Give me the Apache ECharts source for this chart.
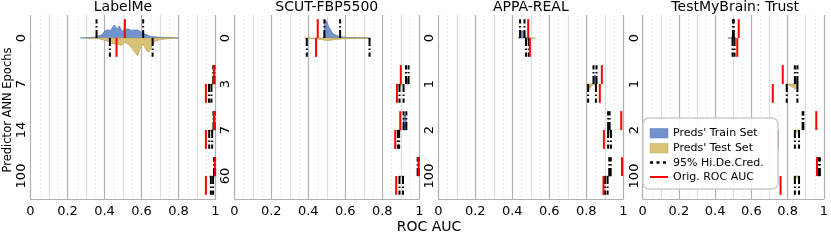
<!DOCTYPE html>
<html>
<head>
<meta charset="utf-8">
<script src="https://cdn.jsdelivr.net/npm/echarts@6/dist/echarts.min.js"></script>
<style>html,body{margin:0;padding:0;background:#fff}#c{width:831px;height:241px}</style>
</head>
<body>
<div id="c"></div>
<script>
// ---------- data ----------
const panelTitles = ['LabelMe', 'SCUT-FBP5500', 'APPA-REAL', 'TestMyBrain: Trust'];
const xTickLabels = ['0', '0.2', '0.4', '0.6', '0.8', '1'];
const xAxisName = 'ROC AUC';
const yAxisName = 'Predictor ANN Epochs';
const legendLabels = ["Preds' Train Set", "Preds' Test Set", '95% Hi.De.Cred.', 'Orig. ROC AUC'];

// LabelMe
const epochsLabelMe = ['0', '7', '14', '100'];
const trainOrigLabelMe = [0.510, 0.991, 0.992, 0.996];
const testOrigLabelMe = [0.465, 0.948, 0.948, 0.948];
const trainHdiLabelMe = [[0.357, 0.609], [0.988, 0.994], [0.989, 0.995], [0.992, 0.998]];
const testHdiLabelMe = [[0.429, 0.660], [0.965, 0.978], [0.966, 0.982], [0.975, 0.987]];
const trainKdeLabelMe = [
  [[0.27,0],[0.303,0.013],[0.348,0.04],[0.384,0.13],[0.405,0.33],[0.418,0.36],[0.429,0.32],[0.438,0.39],[0.452,0.56],[0.468,0.40],[0.480,0.52],[0.496,0.29],[0.510,0.39],[0.528,0.39],[0.545,0.34],[0.565,0.35],[0.582,0.35],[0.600,0.25],[0.618,0.17],[0.650,0.07],[0.700,0.03],[0.762,0.01],[0.80,0]],
  [[0.985,0],[0.992,0.2],[0.999,0]],
  [[0.985,0],[0.992,0.2],[0.999,0]],
  [[0.988,0],[0.995,0.2],[1.0,0]]
];
const testKdeLabelMe = [
  [[0.30,0],[0.37,0.03],[0.411,0.12],[0.438,0.23],[0.456,0.25],[0.475,0.28],[0.492,0.33],[0.510,0.19],[0.537,0.33],[0.564,0.62],[0.579,0.77],[0.591,0.48],[0.609,0.26],[0.627,0.55],[0.640,0.62],[0.654,0.40],[0.672,0.14],[0.708,0.06],[0.762,0.01],[0.79,0]],
  [[0.958,0],[0.968,0.05],[0.978,0.04],[0.99,0]],
  [[0.958,0],[0.968,0.08],[0.98,0.05],[0.99,0]],
  [[0.965,0],[0.978,0.05],[0.988,0.03],[0.995,0]]
];

// SCUT-FBP5500
const epochsScut = ['0', '3', '7', '60'];
const trainOrigScut = [0.451, 0.900, 0.897, 0.996];
const testOrigScut = [0.442, 0.879, 0.870, 0.875];
const trainHdiScut = [[0.487, 0.572], [0.928, 0.942], [0.915, 0.930], [0.991, 0.997]];
const testHdiScut = [[0.392, 0.731], [0.893, 0.915], [0.884, 0.891], [0.893, 0.912]];
const trainKdeScut = [
  [[0.484,0],[0.489,0.72],[0.494,0.78],[0.500,0.72],[0.509,0.52],[0.518,0.39],[0.527,0.26],[0.536,0.17],[0.554,0.11],[0.572,0.065],[0.609,0.025],[0.66,0.01],[0.73,0]],
  [[0.926,0],[0.930,0.2],[0.935,0.26],[0.940,0.2],[0.944,0]],
  [[0.913,0],[0.916,0.6],[0.922,0.66],[0.928,0.6],[0.931,0]],
  [[0.99,0],[0.995,0.15],[1.0,0]]
];
const testKdeScut = [
  [[0.38,0],[0.40,0.02],[0.45,0.04],[0.48,0.08],[0.50,0.12],[0.52,0.10],[0.55,0.06],[0.60,0.03],[0.68,0.015],[0.74,0]],
  [[0.884,0],[0.890,0.12],[0.895,0.15],[0.902,0.05],[0.910,0]],
  [[0.880,0],[0.886,0.10],[0.892,0.08],[0.900,0]],
  [[0.890,0],[0.900,0.04],[0.910,0.03],[0.920,0]]
];

// APPA-REAL
const epochsAppa = ['0', '1', '2', '100'];
const trainOrigAppa = [0.486, 0.884, 0.989, 0.993];
const testOrigAppa = [0.495, 0.873, 0.895, 0.893];
const trainHdiAppa = [[0.442, 0.466], [0.839, 0.855], [0.918, 0.926], [0.924, 0.932]];
const testHdiAppa = [[0.474, 0.489], [0.810, 0.852], [0.918, 0.933], [0.901, 0.915]];
const trainKdeAppa = [
  [[0.43,0],[0.44,0.02],[0.446,0.28],[0.455,0.33],[0.463,0.28],[0.470,0.04],[0.49,0.01],[0.50,0]],
  [[0.836,0],[0.840,0.30],[0.847,0.40],[0.853,0.30],[0.858,0]],
  [[0.915,0],[0.920,0.08],[0.928,0.06],[0.933,0]],
  [[0.920,0],[0.927,0.08],[0.935,0]]
];
const testKdeAppa = [
  [[0.465,0],[0.475,0.04],[0.485,0.05],[0.50,0.02],[0.525,0]],
  [[0.800,0],[0.808,0.20],[0.818,0.22],[0.828,0.08],[0.840,0.03],[0.860,0]],
  [[0.912,0],[0.918,0.15],[0.925,0.12],[0.935,0]],
  [[0.895,0],[0.905,0.05],[0.915,0.04],[0.935,0]]
];

// TestMyBrain: Trust
const epochsTmb = ['0', '1', '2', '100'];
const trainOrigTmb = [0.530, 0.773, 0.958, 0.962];
const testOrigTmb = [0.522, 0.718, 0.746, 0.761];
const trainHdiTmb = [[0.498, 0.503], [0.840, 0.854], [0.883, 0.887], [0.971, 0.978]];
const testHdiTmb = [[0.496, 0.507], [0.795, 0.854], [0.840, 0.863], [0.840, 0.863]];
const trainKdeTmb = [
  [[0.47,0],[0.49,0.01],[0.50,0.05],[0.505,0.02],[0.51,0]],
  [[0.837,0],[0.842,0.25],[0.848,0.30],[0.853,0.22],[0.857,0]],
  [[0.880,0],[0.885,0.05],[0.890,0]],
  [[0.965,0],[0.974,0.10],[0.982,0]]
];
const testKdeTmb = [
  [[0.48,0],[0.495,0.03],[0.505,0.03],[0.515,0]],
  [[0.790,0],[0.805,0.04],[0.825,0.12],[0.840,0.22],[0.850,0.15],[0.857,0]],
  [[0.835,0],[0.845,0.10],[0.855,0.09],[0.865,0]],
  [[0.835,0],[0.845,0.08],[0.855,0.06],[0.865,0]]
];

// ---------- chart ----------
const panels = [
  {rows: epochsLabelMe, trainOrig: trainOrigLabelMe, testOrig: testOrigLabelMe, trainHdi: trainHdiLabelMe, testHdi: testHdiLabelMe, trainKde: trainKdeLabelMe, testKde: testKdeLabelMe},
  {rows: epochsScut, trainOrig: trainOrigScut, testOrig: testOrigScut, trainHdi: trainHdiScut, testHdi: testHdiScut, trainKde: trainKdeScut, testKde: testKdeScut},
  {rows: epochsAppa, trainOrig: trainOrigAppa, testOrig: testOrigAppa, trainHdi: trainHdiAppa, testHdi: testHdiAppa, trainKde: trainKdeAppa, testKde: testKdeAppa},
  {rows: epochsTmb, trainOrig: trainOrigTmb, testOrig: testOrigTmb, trainHdi: trainHdiTmb, testHdi: testHdiTmb, trainKde: trainKdeTmb, testKde: testKdeTmb}
];

const FONT = 'DejaVu Sans';
const gridLefts = [30.5, 234.3, 438.3, 642.7];
const gridWidth = 185;
const gridTop = 15, gridHeight = 184;
const TRAIN_FILL = '#7093cd', TRAIN_STROKE = '#5a7db8';
const TEST_FILL = '#d9c275', TEST_STROKE = '#b9a459';
const HDI_DASH = [8, 2.5, 1.5, 2.5];

function makeRender(p) {
  return function (params, api) {
    const i = api.value(1);
    const yc = api.coord([0, i])[1];
    const half = api.size([0, 1])[1] / 2;
    const L = half * 0.82;
    const X = v => api.coord([v, i])[0];
    const children = [];
    function kde(points, dir, fill, stroke) {
      const pts = [[X(points[0][0]), yc]];
      points.forEach(q => pts.push([X(q[0]), yc - dir * q[1] * half]));
      pts.push([X(points[points.length - 1][0]), yc]);
      children.push({type: 'polygon', shape: {points: pts}, style: {fill: fill, stroke: stroke, lineWidth: 0.7}});
    }
    kde(p.trainKde[i], 1, TRAIN_FILL, TRAIN_STROKE);
    kde(p.testKde[i], -1, TEST_FILL, TEST_STROKE);
    function vline(v, dir, color, dash) {
      const x = X(v);
      children.push({type: 'line', shape: {x1: x, y1: yc, x2: x, y2: yc - dir * L},
        style: {stroke: color, lineWidth: 2, lineDash: dash || null}});
    }
    p.trainHdi[i].forEach(v => vline(v, 1, '#000', HDI_DASH));
    p.testHdi[i].forEach(v => vline(v, -1, '#000', HDI_DASH));
    vline(p.trainOrig[i], 1, '#ff0000');
    vline(p.testOrig[i], -1, '#ff0000');
    return {type: 'group', children: children};
  };
}

const grids = [], xAxes = [], yAxes = [], series = [];
panels.forEach((p, k) => {
  grids.push({left: gridLefts[k], top: gridTop, width: gridWidth, height: gridHeight});
  xAxes.push({
    type: 'value', gridIndex: k, min: 0, max: 1, interval: 0.1,
    axisLine: {show: true, lineStyle: {color: '#b0b0b0', width: 1}},
    axisTick: {show: false},
    axisLabel: {
      fontFamily: FONT, fontSize: 13, color: '#000', margin: 6,
      formatter: v => { const n = Math.round(v * 10); return n % 2 === 0 ? xTickLabels[n / 2] : ''; }
    },
    splitLine: {show: true, lineStyle: {color: ['#b0b0b0', '#dddddd'], width: 1.2}},
    minorTick: {show: false, splitNumber: 2},
    minorSplitLine: {show: true, lineStyle: {color: '#ececec', width: 1, type: [2, 2]}}
  });
  yAxes.push({
    type: 'category', gridIndex: k, data: p.rows, inverse: true,
    axisLine: {show: false}, axisTick: {show: false}, splitLine: {show: false},
    axisLabel: {rotate: 90, fontFamily: FONT, fontSize: 13, color: '#000', margin: 2}
  });
  series.push({
    type: 'custom', xAxisIndex: k, yAxisIndex: k,
    data: p.rows.map((r, i) => [0, i]), encode: {x: 0, y: 1},
    renderItem: makeRender(p), silent: true
  });
});

const graphic = [];
panelTitles.forEach((t, k) => {
  graphic.push({type: 'text', x: gridLefts[k] + gridWidth / 2, y: 7,
    style: {text: t, font: '14px "DejaVu Sans"', fill: '#000', textAlign: 'center', textVerticalAlign: 'middle'}});
});
graphic.push({type: 'text', x: 429, y: 227,
  style: {text: xAxisName, font: '14px "DejaVu Sans"', fill: '#000', textAlign: 'center', textVerticalAlign: 'middle'}});
graphic.push({type: 'text', x: 8, y: 110, rotation: Math.PI / 2,
  style: {text: yAxisName, font: '11.5px "DejaVu Sans"', fill: '#000', textAlign: 'center', textVerticalAlign: 'middle'}});

// legend
const lg = {x: 643, y: 118, w: 135, h: 71};
const LZ = 100;
graphic.push({type: 'rect', z: LZ, shape: {x: lg.x, y: lg.y, width: lg.w, height: lg.h, r: 6}, style: {fill: 'rgba(255,255,255,0.9)', stroke: '#cccccc', lineWidth: 1.5}});
graphic.push({type: 'rect', z: LZ + 1, shape: {x: 650, y: 128.5, width: 18, height: 9.5}, style: {fill: TRAIN_FILL, stroke: TRAIN_STROKE, lineWidth: 0.5}});
graphic.push({type: 'rect', z: LZ + 1, shape: {x: 650, y: 143.5, width: 18, height: 9.5}, style: {fill: TEST_FILL, stroke: TEST_STROKE, lineWidth: 0.5}});
graphic.push({type: 'line', z: LZ + 1, shape: {x1: 650, y1: 162.5, x2: 668, y2: 162.5}, style: {stroke: '#000', lineWidth: 2.5, lineDash: [3, 3.5]}});
graphic.push({type: 'line', z: LZ + 1, shape: {x1: 650, y1: 177, x2: 668, y2: 177}, style: {stroke: '#ff0000', lineWidth: 2}});
const legendY = [133.5, 148.5, 163, 177.5];
legendLabels.forEach((t, j) => graphic.push({type: 'text', z: LZ + 1, x: 673, y: legendY[j],
  style: {text: t, font: '11px "DejaVu Sans"', fill: '#000', textAlign: 'left', textVerticalAlign: 'middle'}}));

const chart = echarts.init(document.getElementById('c'), null, {renderer: 'canvas'});
chart.setOption({
  animation: false,
  backgroundColor: '#fff',
  grid: grids, xAxis: xAxes, yAxis: yAxes, series: series,
  graphic: graphic
});
</script>
</body>
</html>
